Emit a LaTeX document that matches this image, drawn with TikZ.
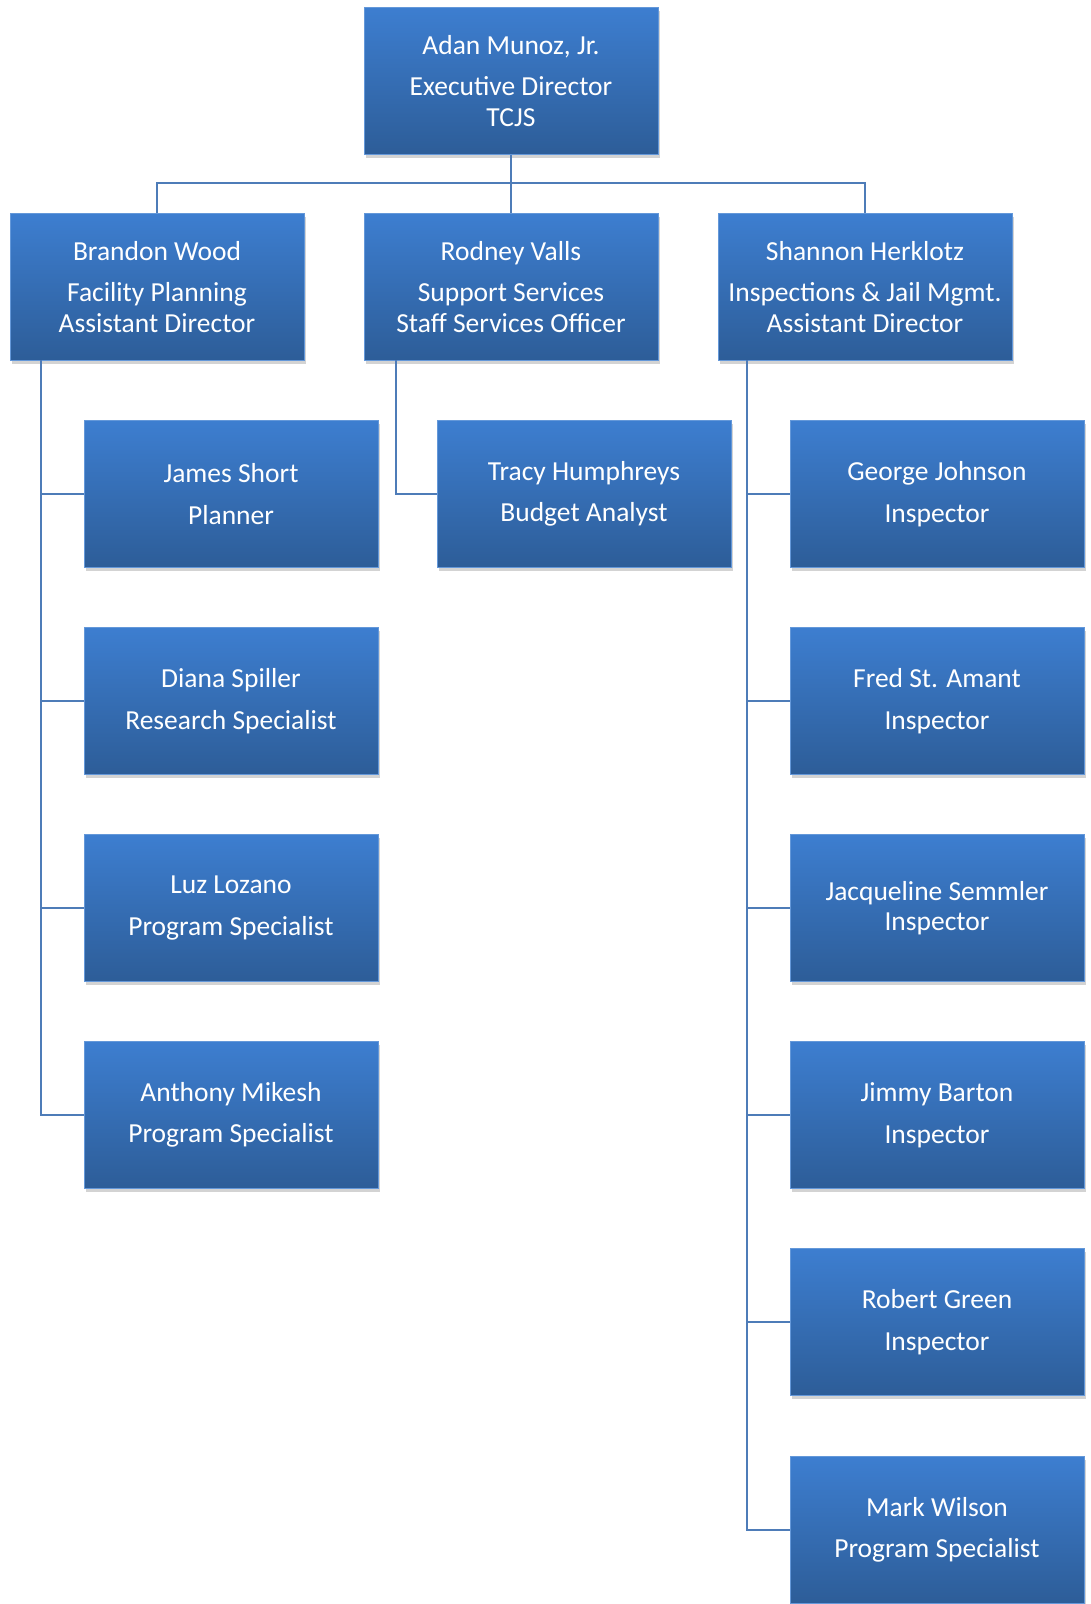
\documentclass[tikz,border=0pt]{standalone}
\usepackage{fontspec}
\setmainfont{Carlito}
\usepackage{tikz}
\usetikzlibrary{positioning,calc,shadows}
\definecolor{boxtop}{HTML}{3D7ED0}
\definecolor{boxbot}{HTML}{2D5D98}
\definecolor{linkblue}{HTML}{4E7CB8}

\begin{document}
\begin{tikzpicture}[x=1pt,y=-1pt,
  box/.style={minimum width=294pt,minimum height=147pt,inner sep=0pt,
              top color=boxtop,bottom color=boxbot,draw=boxtop!80!white,line width=0.6pt,
              text=white,align=center,font=\fontsize{27.5}{30.5}\selectfont,
              drop shadow={shadow xshift=2pt,shadow yshift=-3pt,opacity=0.35}},
  conn/.style={draw=linkblue,line width=1.6pt},
]
  \useasboundingbox (0,0) rectangle (1090,1604);

  % Executive level
  \node[box] (exec) at (511,81) {Adan Munoz, Jr.\\[11pt]Executive Director\\TCJS};

  % Assistant directors
  \node[box] (brandon) at (157,287) {Brandon Wood\\[11pt]Facility Planning\\Assistant Director};
  \node[box] (rodney) at (511,287) {Rodney Valls\\[11pt]Support Services\\Staff Services Officer};
  \node[box] (shannon) at (865,287) {Shannon Herklotz\\[11pt]Inspections \& Jail Mgmt.\\Assistant Director};

  % Facility planning staff
  \node[box] (james) at (231,494) {James Short\\[11pt]Planner};
  \node[box] (diana) at (231,701) {Diana Spiller\\[11pt]Research Specialist};
  \node[box] (luz) at (231,908) {Luz Lozano\\[11pt]Program Specialist};
  \node[box] (anthony) at (231,1115) {Anthony Mikesh\\[11pt]Program Specialist};

  % Support services staff
  \node[box] (tracy) at (584,494) {Tracy Humphreys\\[11pt]Budget Analyst};

  % Inspections staff
  \node[box] (george) at (937,494) {George Johnson\\[11pt]Inspector};
  \node[box] (fred) at (937,701) {Fred St. Amant\\[11pt]Inspector};
  \node[box] (jacq) at (937,908) {Jacqueline Semmler\\Inspector};
  \node[box] (jimmy) at (937,1115) {Jimmy Barton\\[11pt]Inspector};
  \node[box] (robert) at (937,1322) {Robert Green\\[11pt]Inspector};
  \node[box] (mark) at (937,1530) {Mark Wilson\\[11pt]Program Specialist};

  % Connectors
  \coordinate (bar) at (511,183);
  \coordinate (ltrunk) at (41,360);
  \coordinate (mtrunk) at (396,360);
  \coordinate (rtrunk) at (747,360);

  \path[conn] (exec.south) -- (rodney.north);
  \path[conn] (brandon.north) |- (bar) -| (shannon.north);
  \foreach \n in {james,diana,luz,anthony}
    \path[conn] (ltrunk) |- (\n.west);
  \path[conn] (mtrunk) |- (tracy.west);
  \foreach \n in {george,fred,jacq,jimmy,robert,mark}
    \path[conn] (rtrunk) |- (\n.west);
\end{tikzpicture}
\end{document}
